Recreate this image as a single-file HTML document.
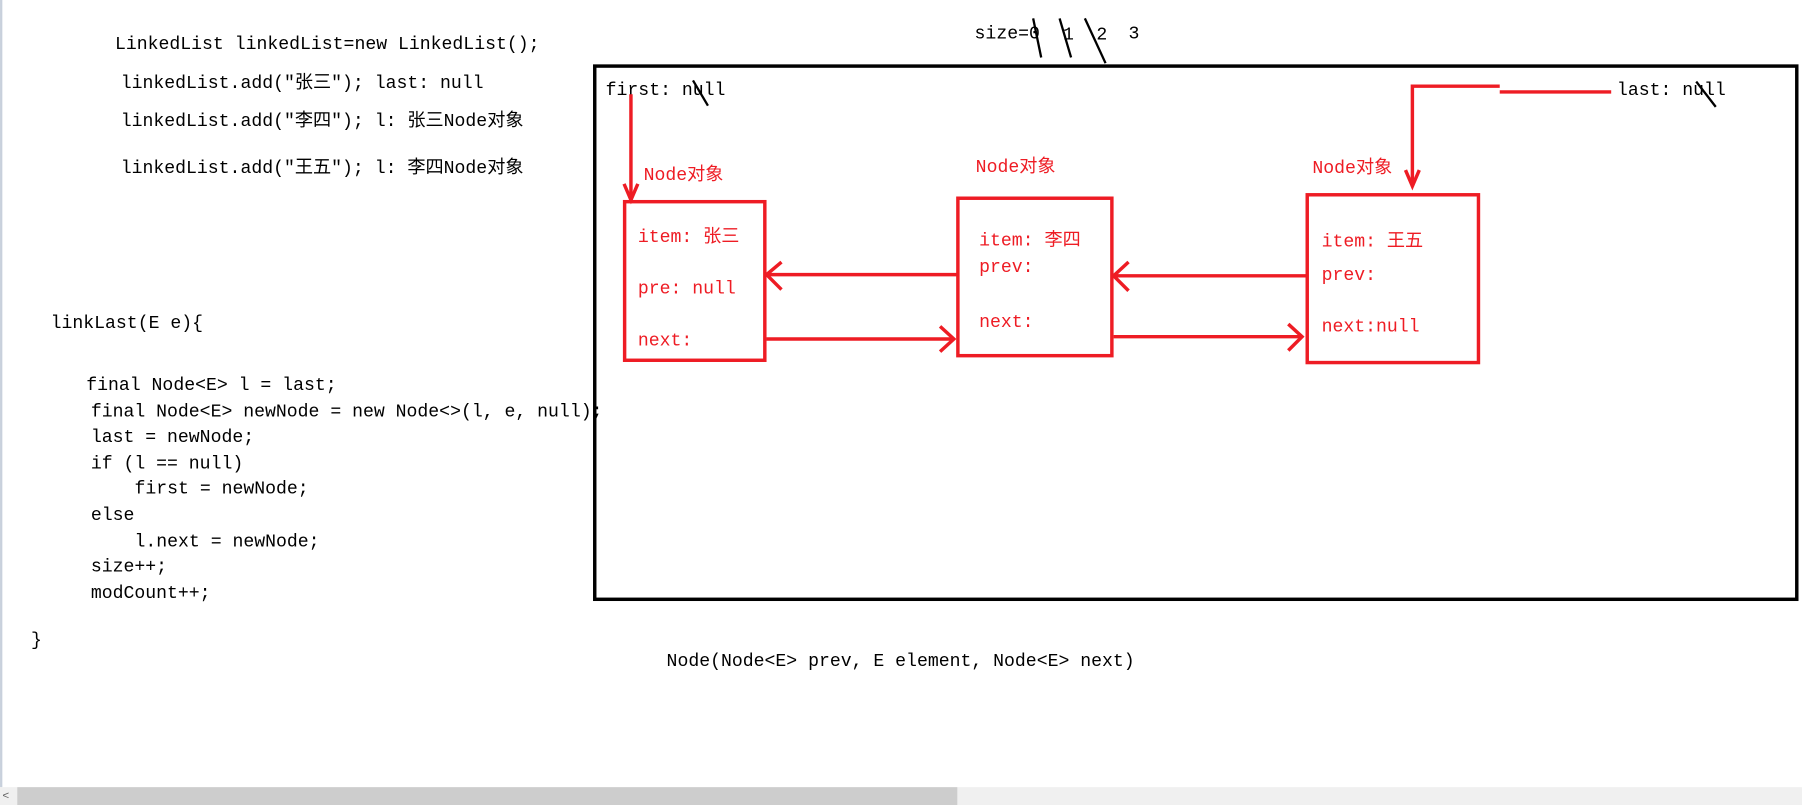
<!DOCTYPE html>
<html><head><meta charset="utf-8"><style>
html,body{margin:0;padding:0;background:#fff;overflow:hidden}
svg{display:block}
text{font-family:"Liberation Mono","Noto Sans CJK SC",monospace;font-size:15.8px;dominant-baseline:central}
.r{fill:#ee1c24}
</style></head><body>
<svg width="1802" height="805" viewBox="0 0 1568 700.5" xmlns="http://www.w3.org/2000/svg">
<rect x="0" y="0" width="2" height="685" fill="#c8d0dc"/>
<g fill="#000">
<text x="100" y="39">LinkedList linkedList=new LinkedList();</text>
<text x="105" y="73">linkedList.add("张三"); last: null</text>
<text x="105" y="106">linkedList.add("李四"); l: 张三Node对象</text>
<text x="105" y="147">linkedList.add("王五"); l: 李四Node对象</text>
<text x="44" y="282">linkLast(E e){</text>
<text x="75" y="336">final Node&lt;E&gt; l = last;</text>
<text x="79" y="359">final Node&lt;E&gt; newNode = new Node&lt;&gt;(l, e, null);</text>
<text x="79" y="381">last = newNode;</text>
<text x="79" y="404">if (l == null)</text>
<text x="117" y="426">first = newNode;</text>
<text x="79" y="449">else</text>
<text x="117" y="472">l.next = newNode;</text>
<text x="79" y="494">size++;</text>
<text x="79" y="517">modCount++;</text>
<text x="27" y="558">}</text>
<text x="580" y="576">Node(Node&lt;E&gt; prev, E element, Node&lt;E&gt; next)</text>
<text x="848" y="30">size=0</text>
<text x="925" y="31">1</text>
<text x="954" y="31">2</text>
<text x="982" y="30">3</text>
<text x="527" y="79">first: null</text>
<text x="1407" y="79">last: null</text>
</g>
<rect x="517.5" y="57.5" width="1046" height="464" fill="none" stroke="#000" stroke-width="3"/>
<g stroke="#000" stroke-width="2">
<line x1="899" y1="16" x2="906" y2="50"/>
<line x1="922" y1="16" x2="932" y2="50"/>
<line x1="944" y1="16" x2="962" y2="55"/>
<line x1="603" y1="70" x2="616" y2="92"/>
<line x1="1476" y1="71" x2="1493" y2="93"/>
</g>
<g fill="none" stroke="#ee1c24" stroke-width="3">
<rect x="543.5" y="175.5" width="122" height="138"/>
<rect x="833.5" y="172.5" width="134" height="137"/>
<rect x="1137.5" y="169.5" width="149" height="146"/>
<line x1="549" y1="82" x2="549" y2="174"/>
<polyline points="543,160 549,174 555,160"/>
<polyline points="1229,162 1229,75 1305,75"/>
<polyline points="1223,148 1229,162 1235,148"/>
<line x1="1305" y1="80" x2="1402" y2="80"/>
<line x1="833" y1="239" x2="667" y2="239"/>
<polyline points="680,228 667,239 680,252"/>
<line x1="667" y1="295" x2="830" y2="295"/>
<polyline points="818,284 830,295 818,306"/>
<line x1="1137" y1="240" x2="969" y2="240"/>
<polyline points="982,228 969,240 982,253"/>
<line x1="969" y1="293" x2="1133" y2="293"/>
<polyline points="1121,282 1133,293 1121,305"/>
</g>
<g class="r">
<text x="560" y="153">Node对象</text>
<text x="849" y="146">Node对象</text>
<text x="1142" y="147">Node对象</text>
<text x="555" y="207">item: 张三</text>
<text x="555" y="252">pre: null</text>
<text x="555" y="297">next:</text>
<text x="852" y="210">item: 李四</text>
<text x="852" y="233">prev:</text>
<text x="852" y="281">next:</text>
<text x="1150" y="211">item: 王五</text>
<text x="1150" y="240">prev:</text>
<text x="1150" y="285">next:null</text>
</g>
<rect x="0" y="685" width="1568" height="16" fill="#f0f0f0"/>
<rect x="15" y="685" width="818" height="16" fill="#cdcdcd"/>
<text x="2" y="693" style="font-size:10px" fill="#606060">&lt;</text>
</svg>
</body></html>
